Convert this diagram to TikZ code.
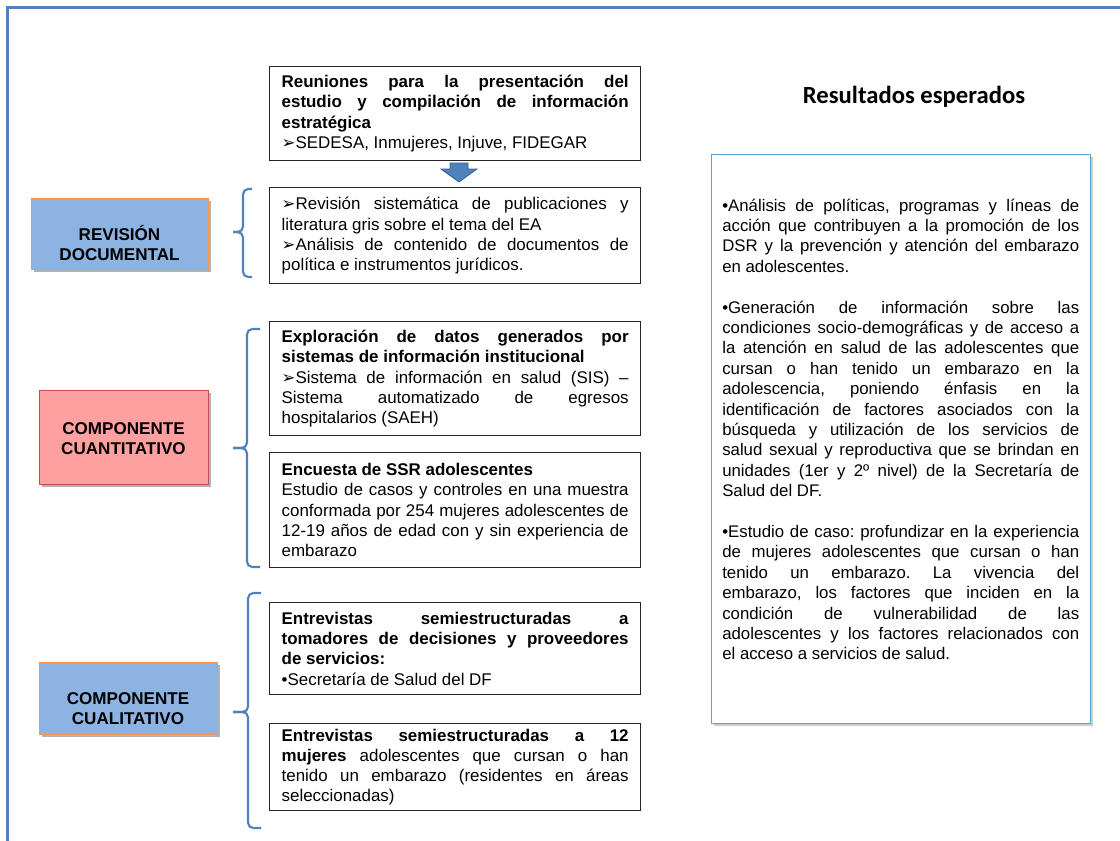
\documentclass[tikz,border=0pt]{standalone}
\usepackage{fontspec}
\setmainfont{Liberation Sans}
\newfontfamily\calfont{Carlito}
\newfontfamily\dingfont{DejaVu Sans}
\usetikzlibrary{shadows}

\definecolor{marco}{RGB}{79,129,189}
\definecolor{bordeflecha}{RGB}{56,93,138}
\definecolor{azulclaro}{RGB}{141,179,226}
\definecolor{rosa}{RGB}{255,160,160}
\definecolor{naranja}{RGB}{247,150,70}
\definecolor{rojo}{RGB}{192,80,77}
\definecolor{turquesa}{RGB}{75,172,198}

\newcommand{\flecha}{{\dingfont\fontsize{12.5pt}{12pt}\selectfont ➢}}
\hyphenpenalty=10000
\exhyphenpenalty=10000
\tolerance=10000
\hbadness=10000
\frenchspacing

\begin{document}
\begin{tikzpicture}[x=0.75pt, y=-0.75pt,
		caja/.style={draw=black!85, line width=1pt, anchor=north west, minimum width=278.25pt,
			inner xsep=9pt, inner ysep=0pt, text width=260.25pt, align=justify,
			font=\fontsize{12.7pt}{15.2pt}\selectfont},
		etiqueta/.style={anchor=north west, line width=1.1pt,
			drop shadow={shadow xshift=1.5pt, shadow yshift=-2pt, opacity=0.3, fill=black}},
		etiqtexto/.style={align=center, inner sep=0pt, font=\bfseries\fontsize{12.8pt}{14.5pt}\selectfont},
		llave/.style={draw=marco, line width=1.6pt, rounded corners=4pt}]
	\useasboundingbox (0,0) rectangle (1120,840);

	% marco exterior
	\draw[marco, line width=1.6pt] (1125,7.5) -- (7.5,7.5) -- (7.5,845);

	% columna de etapas
	\node[caja, minimum height=70.5pt] (reun) at (269,66) {{\bfseries Reuniones para la presentación del\linebreak estudio y compilación de información\linebreak estratégica}\par\flecha SEDESA, Inmujeres, Injuve, FIDEGAR};
	\node[caja, minimum height=72pt] (revi) at (269,187) {\flecha Revisión sistemática de publicaciones y\linebreak literatura gris sobre el tema del EA\par\flecha Análisis de contenido de documentos de\linebreak política e instrumentos jurídicos.};
	\node[caja, minimum height=85.5pt] (expl) at (269,321) {{\bfseries Exploración de datos generados por\linebreak sistemas de información institucional}\par\flecha Sistema de información en salud (SIS) –\linebreak Sistema automatizado de egresos\linebreak hospitalarios (SAEH)};
	\node[caja, minimum height=86.25pt] (encu) at (269,452) {{\bfseries Encuesta de SSR adolescentes}\par Estudio de casos y controles en una muestra\linebreak conformada por 254 mujeres adolescentes de\linebreak 12-19 años de edad con y sin experiencia de\linebreak embarazo};
	\node[caja, minimum height=69pt] (entr1) at (269,602) {{\bfseries Entrevistas semiestructuradas a\linebreak tomadores de decisiones y proveedores\linebreak de servicios:}\par •Secretaría de Salud del DF};
	\node[caja, minimum height=65.25pt] (entr2) at (269,723) {{\bfseries Entrevistas semiestructuradas a 12\linebreak mujeres} adolescentes que cursan o han\linebreak tenido un embarazo (residentes en áreas\linebreak seleccionadas)};

	% flecha entre las dos primeras cajas
	\coordinate (flechaarriba) at (459,163);
	\draw[fill=marco, draw=bordeflecha, line width=0.6pt] (flechaarriba) ++(-9,0) -- ++(18,0) -- ++(0,6) -- ++(9,0) -- ++(-18,13) -- ++(-18,-13) -- ++(9,0) -- cycle;

	% componentes
	\node[etiqueta, fill=azulclaro, draw=naranja, minimum width=132.75pt, minimum height=53.25pt] (revdoc) at (31,198) {};
	\node[etiqueta, fill=rosa, draw=rojo, minimum width=126.75pt, minimum height=70.5pt] (cuanti) at (39,390) {};
	\node[etiqueta, fill=azulclaro, draw=naranja, minimum width=133.5pt, minimum height=54pt] (cuali) at (39,662) {};
	\node[etiqtexto] (revdoct) at (119.5,243) {REVISIÓN\\DOCUMENTAL};
	\node[etiqtexto] (cuantit) at (123.5,438.5) {COMPONENTE\\CUANTITATIVO};
	\node[etiqtexto] (cualit) at (128,708.5) {COMPONENTE\\CUALITATIVO};

	% llaves
	\draw[llave] (252,189) -- (243,189) -- (243,232) -- (233,232);
	\draw[llave] (233,232) -- (243,232) -- (243,277) -- (252,277);
	\draw[llave] (260,329) -- (247,329) -- (247,448) -- (233,448);
	\draw[llave] (233,448) -- (247,448) -- (247,567) -- (260,567);
	\draw[llave] (261,593) -- (248,593) -- (248,712) -- (233,712);
	\draw[llave] (233,712) -- (248,712) -- (248,828) -- (261,828);

	% resultados esperados
	\node[font=\calfont\bfseries\fontsize{18.5pt}{22pt}\selectfont, inner sep=0pt] (restit) at (914,97) {Resultados esperados};
	\node[anchor=north west, draw=turquesa, line width=1.1pt, fill=white, minimum width=284.25pt, minimum height=426.75pt,
		drop shadow={shadow xshift=1.5pt, shadow yshift=-1.5pt, opacity=0.2, fill=black}] (res) at (711,154) {};
	\node[anchor=base west, inner sep=0pt, text width=267.75pt, align=justify, font=\fontsize{12.6pt}{15.3pt}\selectfont] (restxt) at (722,211) {•Análisis de políticas, programas y líneas de\linebreak acción que contribuyen a la promoción de los\linebreak DSR y la prevención y atención del embarazo\linebreak en adolescentes.\par\vspace{15.3pt}
		•Generación de información sobre las\linebreak condiciones socio-demográficas y de acceso a\linebreak la atención en salud de las adolescentes que\linebreak cursan o han tenido un embarazo en la\linebreak adolescencia, poniendo énfasis en la\linebreak identificación de factores asociados con la\linebreak búsqueda y utilización de los servicios de\linebreak salud sexual y reproductiva que se brindan en\linebreak unidades (1er y 2º nivel) de la Secretaría de\linebreak Salud del DF.\par\vspace{15.3pt}
		•Estudio de caso: profundizar en la experiencia\linebreak de mujeres adolescentes que cursan o han\linebreak tenido un embarazo. La vivencia del\linebreak embarazo, los factores que inciden en la\linebreak condición de vulnerabilidad de las\linebreak adolescentes y los factores relacionados con\linebreak el acceso a servicios de salud.};
\end{tikzpicture}
\end{document}
